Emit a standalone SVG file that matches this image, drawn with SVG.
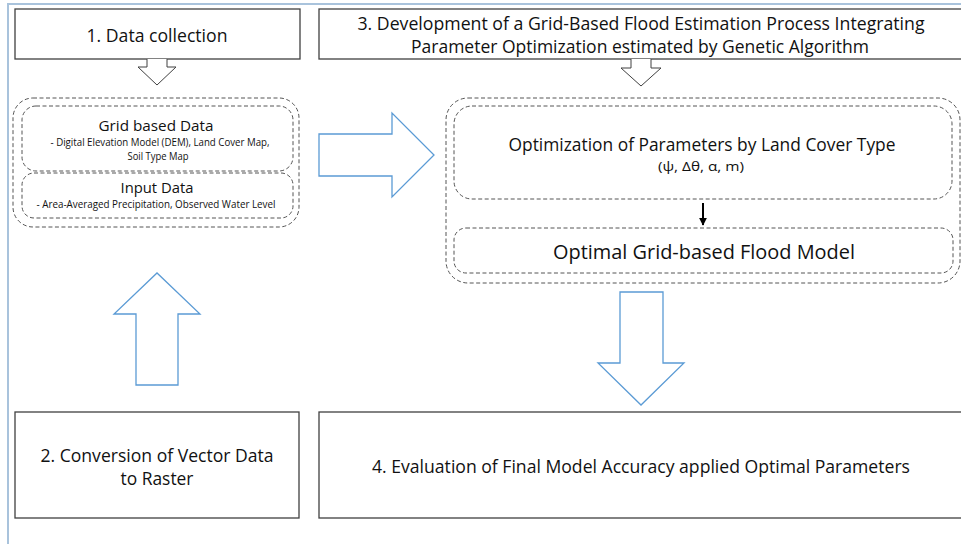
<svg xmlns="http://www.w3.org/2000/svg" width="961" height="544" viewBox="0 0 961 544">
  <style>
    text { font-family: "Open Sans", "Noto Sans", sans-serif; fill: #111; text-anchor: middle; dominant-baseline: central; }
    .box { fill: #fff; stroke: #404040; stroke-width: 1.3; }
    .dash { fill: none; stroke: #555; stroke-width: 1; stroke-dasharray: 4 2.5; }
    .grey-arrow { fill: #fff; stroke: #404040; stroke-width: 1; }
    .blue-arrow { fill: #fff; stroke: #5b9bd5; stroke-width: 1.3; }
    .frame { stroke: #a9c3dc; stroke-width: 2; fill: none; }
  </style>
  <defs>
    <marker id="head" viewBox="0 0 10 10" refX="9" refY="5" markerWidth="4" markerHeight="4" orient="auto">
      <path d="M0,0 L10,5 L0,10 z" fill="#000"/>
    </marker>
  </defs>
  <rect width="961" height="544" fill="#fff"/>

  <!-- page frame -->
  <path class="frame" d="M8,544 V4 H961"/>

  <g id="step1">
    <rect class="box" x="15" y="9" width="285" height="50"/>
    <text x="157" y="34" font-size="18.5" textLength="141" lengthAdjust="spacingAndGlyphs">1. Data collection</text>
  </g>

  <g id="step3">
    <rect class="box" x="319" y="9" width="650" height="50"/>
    <text x="641" y="23" font-size="17.5" textLength="567" lengthAdjust="spacingAndGlyphs">3. Development of a Grid-Based Flood Estimation Process Integrating</text>
    <text x="640" y="46" font-size="17.5" textLength="458" lengthAdjust="spacingAndGlyphs">Parameter Optimization estimated by Genetic Algorithm</text>
  </g>

  <g id="data-group">
    <rect class="dash" x="13" y="98" width="286" height="129" rx="20"/>
    <rect class="dash" x="22" y="106" width="271" height="65" rx="14"/>
    <rect class="dash" x="22" y="173" width="271" height="45" rx="12"/>
    <text x="156" y="125" font-size="14.5" textLength="115" lengthAdjust="spacingAndGlyphs">Grid based Data</text>
    <text x="160" y="142" font-size="10.5" textLength="219" lengthAdjust="spacingAndGlyphs">- Digital Elevation Model (DEM), Land Cover Map,</text>
    <text x="158" y="156" font-size="10.5" textLength="61" lengthAdjust="spacingAndGlyphs">Soil Type Map</text>
    <text x="157" y="187" font-size="14.5" textLength="73" lengthAdjust="spacingAndGlyphs">Input Data</text>
    <text x="156" y="204" font-size="10.5" textLength="239" lengthAdjust="spacingAndGlyphs">- Area-Averaged Precipitation, Observed Water Level</text>
  </g>

  <g id="optimization-group">
    <rect class="dash" x="446" y="98" width="514" height="185" rx="22"/>
    <rect class="dash" x="454" y="106" width="498" height="93" rx="18"/>
    <rect class="dash" x="454" y="228" width="499" height="45" rx="12"/>
    <text x="702" y="144" font-size="19" textLength="387" lengthAdjust="spacingAndGlyphs">Optimization of Parameters by Land Cover Type</text>
    <text x="701" y="166" font-size="13" textLength="86" lengthAdjust="spacingAndGlyphs">(ψ, Δθ, α, m)</text>
    <text x="704" y="251" font-size="20.5" textLength="302" lengthAdjust="spacingAndGlyphs">Optimal Grid-based Flood Model</text>
  </g>

  <g id="step2">
    <rect class="box" x="15" y="412" width="284" height="106"/>
    <text x="157" y="455" font-size="17.5" textLength="233" lengthAdjust="spacingAndGlyphs">2. Conversion of Vector Data</text>
    <text x="157" y="478" font-size="17.5" textLength="73" lengthAdjust="spacingAndGlyphs">to Raster</text>
  </g>

  <g id="step4">
    <rect class="box" x="319" y="412" width="650" height="106"/>
    <text x="641" y="466" font-size="17.5" textLength="538" lengthAdjust="spacingAndGlyphs">4. Evaluation of Final Model Accuracy applied Optimal Parameters</text>
  </g>

  <g id="connectors">
    <path class="grey-arrow" d="M147,59 V67 H138 L157,85 L176,67 H167 V59"/>
    <path class="grey-arrow" d="M631,59 V68 H621 L641,86 L661,68 H651 V59"/>
    <path class="blue-arrow" d="M319,134 H392 V113 L434,155 L392,197 V176 H319 Z"/>
    <path class="blue-arrow" d="M136,385 V314 H114 L157,273 L200,314 H178 V385 Z"/>
    <path class="blue-arrow" d="M620,292 H663 V363 H684 L641,405 L598,363 H620 Z"/>
    <line x1="703" y1="203" x2="703" y2="225" stroke="#000" stroke-width="2" marker-end="url(#head)"/>
  </g>
</svg>
